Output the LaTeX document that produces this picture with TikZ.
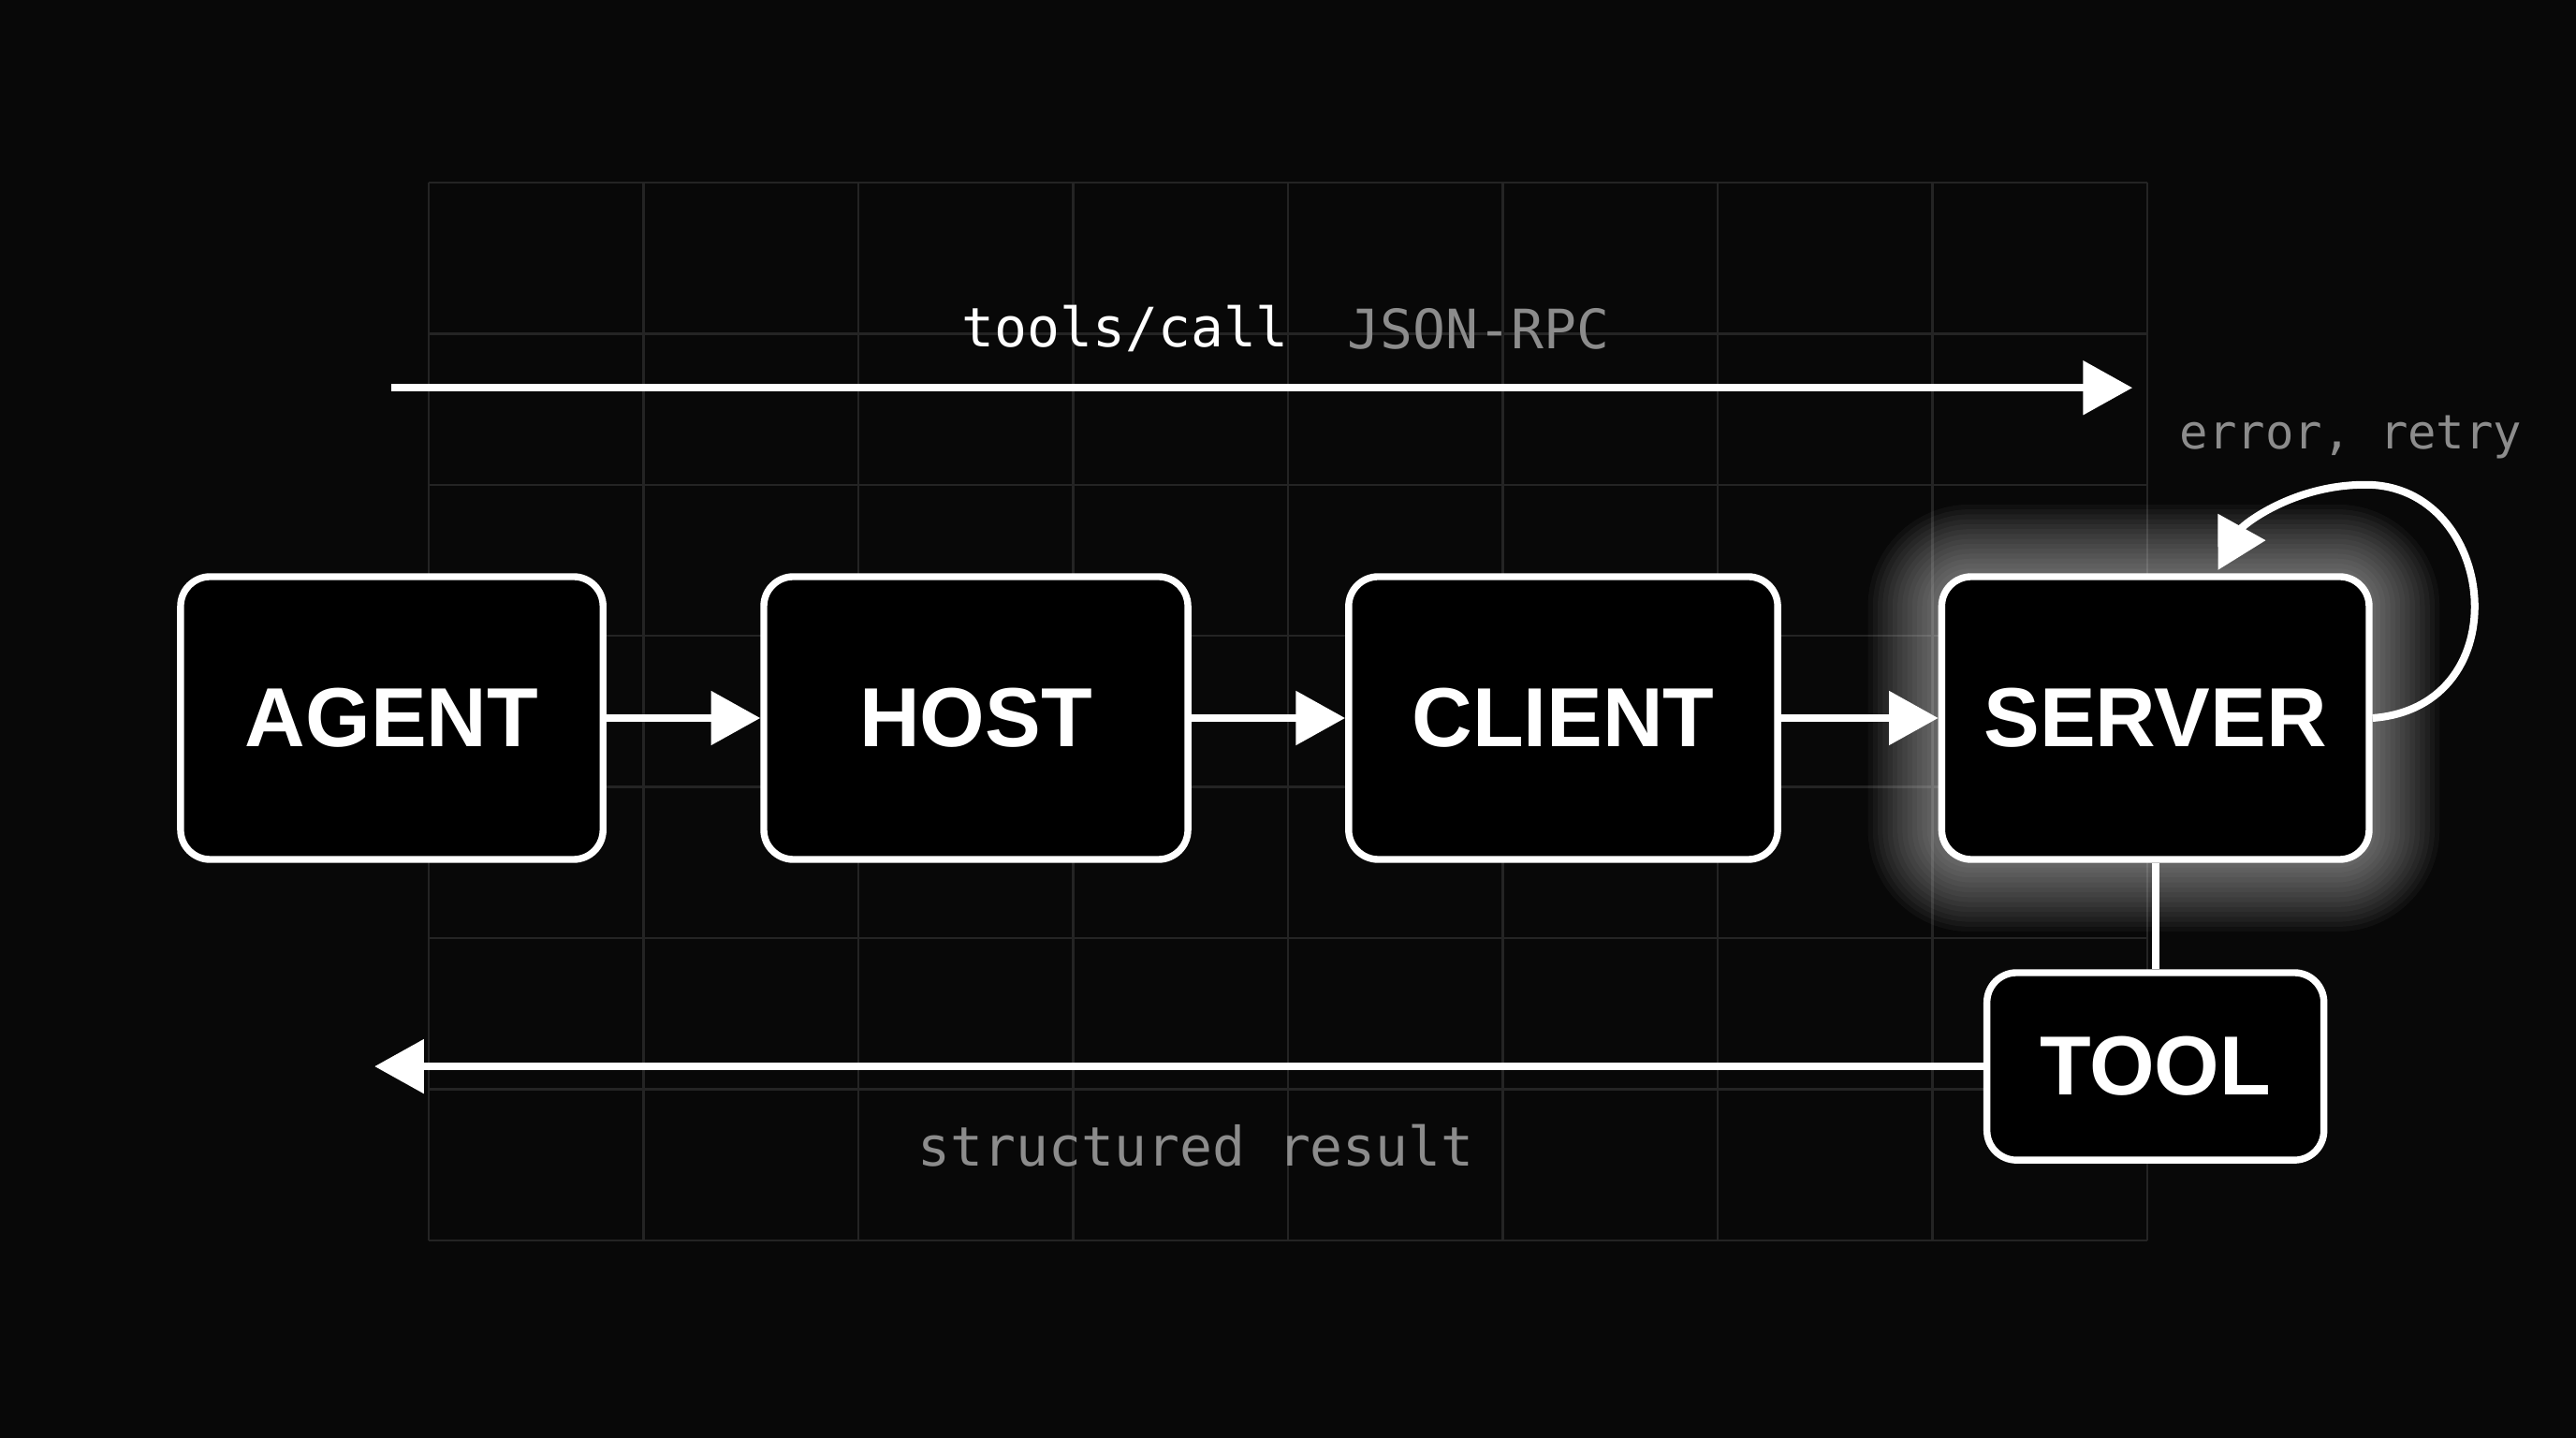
\documentclass[tikz,border=0pt]{standalone}
\usepackage{fontspec}
\setmainfont{Liberation Sans}
\newfontfamily\monof{DejaVu Sans Mono}
\usetikzlibrary{arrows.meta}
\begin{document}
\begin{tikzpicture}[x=0.01cm,y=-0.01cm,
  box/.style={draw=white,line width=1.2pt,rounded corners=0.18cm,fill=black,text=white,font=\fontsize{14.5}{16}\selectfont\bfseries},
  con/.style={draw=white,line width=1.3pt,-{Triangle[length=0.3cm,width=0.32cm]}},
  mono/.style={font=\monof\fontsize{9.4}{11}\selectfont},
  gridl/.style={draw=white!14!black,line width=0.4pt}]
\fill[black!97!white] (0,0) rectangle (1568,875);
\useasboundingbox (0,0) rectangle (1568,875);
\foreach \i in {0,...,8} \draw[gridl] ({261+130.75*\i},111) -- ({261+130.75*\i},755);
\foreach \j in {0,...,7} \draw[gridl] (261,{111+92*\j}) -- (1307,{111+92*\j});
% glow
\foreach \k in {44,41,...,2}
  \fill[white,opacity=0.035,rounded corners={(18+\k)*0.01cm}] ({1181-\k},{351-\k}) rectangle ({1441+\k},{523+\k});
\node[box,minimum width=2.57cm,minimum height=1.72cm] (agent) at (238.5,437) {AGENT};
\node[box,minimum width=2.58cm,minimum height=1.72cm] (host) at (594,437) {HOST};
\node[box,minimum width=2.61cm,minimum height=1.72cm] (client) at (951.5,437) {CLIENT};
\node[box,minimum width=2.60cm,minimum height=1.72cm] (server) at (1312,437) {SERVER};
\node[box,minimum width=2.05cm,minimum height=1.14cm] (tool) at (1312,649) {TOOL};
\draw[con] (agent) -- (host);
\draw[con] (host) -- (client);
\draw[con] (client) -- (server);
\draw[draw=white,line width=1.3pt] (server.south) -- (tool.north);
\coordinate (ts) at (238,236); \coordinate (te) at (1298,236);
\draw[con] (ts) -- (te);
\coordinate (be) at (228,651);
\draw[con] (tool.west) -- (tool.west -| be);
\node[mono,text=white] (tc) at (685,200) {tools/call};
\node[mono,text=white!55!black] (jr) at (900,200) {JSON-RPC};
\node[mono,text=white!55!black,font=\monof\fontsize{8.2}{10}\selectfont] (er) at (1431,266) {error, retry};
\node[mono,text=white!55!black] (sr) at (728,697) {structured result};
\coordinate (lp) at (1350,347);
\draw[con] (server.east) .. controls (1535,430) and (1520,295) .. (1440,295) .. controls (1395,295) and (1365,320) .. (lp);
\end{tikzpicture}
\end{document}
